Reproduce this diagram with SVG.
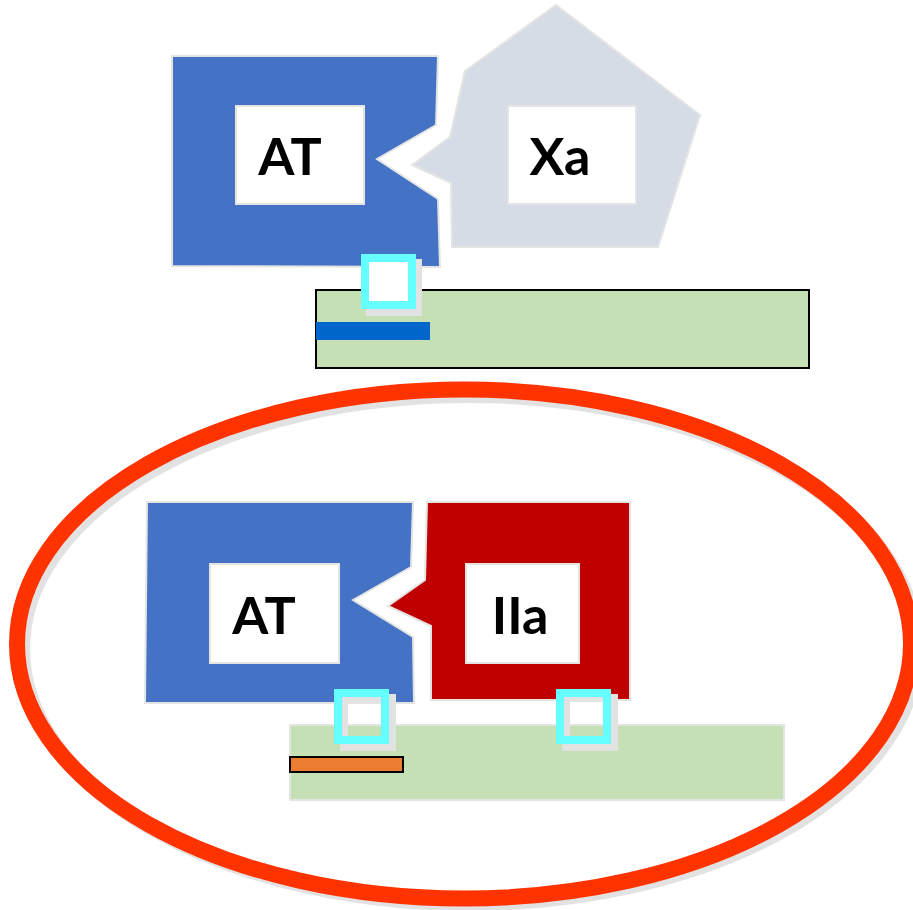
<svg xmlns="http://www.w3.org/2000/svg" width="913" height="910" viewBox="0 0 913 910">
<style>
.shape{stroke:#e4e4e4;stroke-width:2;stroke-linejoin:miter}
.box{fill:#fff;stroke:#e4e4e4;stroke-width:2}
.lbl{font-family:Lato,"Open Sans","Liberation Sans",sans-serif;font-weight:bold;font-size:52px;fill:#000;text-anchor:middle}
.site{fill:none;stroke:#66FFFF;stroke-width:8}
.shadow{fill:none;stroke:#e2e2e2;stroke-width:8}
</style>
<rect width="913" height="910" fill="#fff"/>
<g id="top-complex">
  <g id="at-top">
    <polygon class="shape" fill="#4472C4" points="172,56 438,56 436,125 377,159 438,199 440,267 172,266"/>
    <rect class="box" x="236" y="106" width="128" height="98"/>
    <text class="lbl" x="290" y="175">AT</text>
  </g>
  <g id="xa">
    <polygon class="shape" fill="#D6DCE5" points="556,5 700,115 658,247 452,247 451,183 412,165 450,137 465,71"/>
    <rect class="box" x="508" y="106" width="128" height="98"/>
    <text class="lbl" x="560" y="175">Xa</text>
  </g>
  <g id="surface-top">
    <rect x="316" y="290" width="493" height="78" fill="#C5E0B4" stroke="#000" stroke-width="2"/>
    <rect x="316" y="322" width="114" height="18" fill="#0066CC"/>
  </g>
  <g id="site-top">
    <rect class="shadow" x="370" y="263" width="48" height="49"/>
    <rect x="365" y="258" width="47" height="47" fill="#fff" stroke="#66FFFF" stroke-width="8"/>
  </g>
</g>
<g id="bottom-complex">
  <ellipse cx="469" cy="649" rx="447" ry="254" fill="none" stroke="#e2e2e2" stroke-width="16"/>
  <ellipse id="ring" cx="464" cy="644" rx="447" ry="254.5" fill="none" stroke="#FF3300" stroke-width="16"/>
  <g id="surface-bottom">
    <rect x="290" y="725" width="494" height="75" fill="#C5E0B4" stroke="#e4e4e4" stroke-width="2"/>
    <rect x="290" y="757" width="113" height="15" fill="#ED7D31" stroke="#000" stroke-width="2"/>
  </g>
  <g id="at-bottom">
    <polygon class="shape" fill="#4472C4" points="147,502 413,502 411,567 353,600 413,637 414,703 145,703"/>
    <rect class="box" x="210" y="564" width="129" height="99"/>
    <text class="lbl" x="264" y="634">AT</text>
  </g>
  <g id="iia">
    <polygon class="shape" fill="#C00000" points="427,502 630,502 630,700 431,700 431,626 388,606 425,580"/>
    <rect class="box" x="466" y="564" width="113" height="99"/>
    <text class="lbl" x="520" y="634">IIa</text>
  </g>
  <g id="site-bottom-1">
    <rect class="shadow" x="344" y="698" width="48" height="49"/>
    <rect class="site" x="338" y="693" width="47" height="47"/>
  </g>
  <g id="site-bottom-2">
    <rect class="shadow" x="566" y="698" width="48" height="49"/>
    <rect class="site" x="560" y="693" width="47" height="47"/>
  </g>
</g>
<g id="connectors"/>
</svg>
